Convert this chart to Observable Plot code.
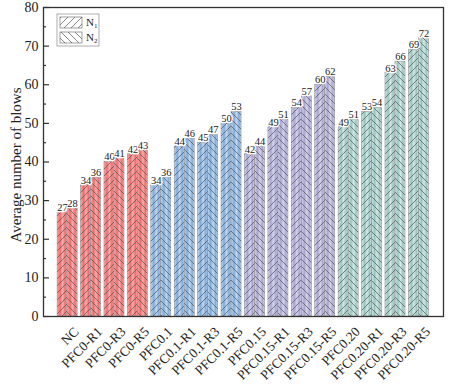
<!DOCTYPE html>
<html>
<head>
<meta charset="utf-8">
<script src="https://cdn.jsdelivr.net/npm/d3@7"></script>
<script src="https://cdn.jsdelivr.net/npm/@observablehq/plot@0.6"></script>
<style>
  html, body { margin: 0; padding: 0; background: #fff; }
  #chart { width: 450px; height: 391px; }
  svg { font-family: "Liberation Serif", "DejaVu Serif", serif; }
</style>
</head>
<body>
<div id="chart"></div>
<script>
const categories = ["NC","PFC0-R1","PFC0-R3","PFC0-R5","PFC0.1","PFC0.1-R1","PFC0.1-R3","PFC0.1-R5",
  "PFC0.15","PFC0.15-R1","PFC0.15-R3","PFC0.15-R5","PFC0.20","PFC0.20-R1","PFC0.20-R3","PFC0.20-R5"];
const n1 = [27,34,40,42,34,44,45,50,42,49,54,60,49,53,63,69];
const n2 = [28,36,41,43,36,46,47,53,44,51,57,62,51,54,66,72];
const family = ["red","red","red","red","blue","blue","blue","blue","purple","purple","purple","purple","teal","teal","teal","teal"];
const seriesNames = ["N1","N2"];
const yTicks = [0,10,20,30,40,50,60,70,80];
const yMinor = [5,15,25,35,45,55,65,75];
const gradientStops = {
  red:    ["#faacac", "#ec6c6c"],
  blue:   ["#c0d8f0", "#7eaadc"],
  purple: ["#d6d4eb", "#a7a5d1"],
  teal:   ["#d2e8e5", "#97c5c0"]
};

const half = 0.427;
const rows = [];
categories.forEach((c, i) => {
  rows.push({i, c, s: "N1", v: n1[i], x1: i - half, x2: i, fam: family[i], hatch: "h1"});
  rows.push({i, c, s: "N2", v: n2[i], x1: i, x2: i + half, fam: family[i], hatch: "h2"});
});

const plot = Plot.plot({
  width: 450,
  height: 391,
  marginLeft: 43,
  marginRight: 7,
  marginTop: 7,
  marginBottom: 75,
  style: {fontFamily: "Liberation Serif, serif", fontSize: "13px", color: "#222", background: "#fff"},
  x: {domain: [-1.03, 16.05], axis: null},
  y: {domain: [0, 80], axis: null},
  color: {type: "identity"},
  marks: [
    Plot.rectY(rows, {x1: "x1", x2: "x2", y1: 0, y2: "v", fill: d => `url(#grad-${d.fam})`, stroke: "#8f8f8f", strokeWidth: 0.6}),
    Plot.rectY(rows, {x1: "x1", x2: "x2", y1: 0, y2: "v", fill: d => `url(#${d.hatch})`}),
    Plot.text(rows, {x: d => (d.x1 + d.x2) / 2, y: "v", text: d => String(d.v), dy: -5, fontSize: 10.5, fill: "#222", stroke: "white", strokeWidth: 2.5}),
    Plot.axisY({ticks: yTicks, tickSize: -6, tickPadding: 11, fontSize: 14, stroke: "#333", strokeWidth: 1.2, label: null}),
    Plot.axisY({ticks: yMinor, tickSize: -3, tickFormat: () => "", stroke: "#333", strokeWidth: 1.2, label: null}),
    Plot.axisX({ticks: d3.range(categories.length), tickFormat: i => categories[i], tickRotate: -45, tickSize: 0, tickPadding: 4, dx: 9, dy: 9, fontSize: 13.5, label: null}),
    Plot.frame({stroke: "#333", strokeWidth: 1.3})
  ]
});

document.getElementById("chart").appendChild(plot);

const svg = d3.select(plot);
const defs = svg.insert("defs", ":first-child");
Object.entries(gradientStops).forEach(([k, [light, dark]]) => {
  const g = defs.append("linearGradient").attr("id", `grad-${k}`).attr("x1", "0").attr("x2", "1").attr("y1", "0").attr("y2", "0");
  g.append("stop").attr("offset", "0%").attr("stop-color", light);
  g.append("stop").attr("offset", "30%").attr("stop-color", dark);
  g.append("stop").attr("offset", "55%").attr("stop-color", light);
  g.append("stop").attr("offset", "80%").attr("stop-color", dark);
  g.append("stop").attr("offset", "100%").attr("stop-color", light);
});
const p1 = defs.append("pattern").attr("id", "h1").attr("patternUnits", "userSpaceOnUse").attr("width", 7).attr("height", 7);
p1.append("path").attr("d", "M-1,1 l2,-2 M0,7 l7,-7 M6,8 l2,-2").attr("stroke", "#555").attr("stroke-width", 0.7).attr("fill", "none");
const p2 = defs.append("pattern").attr("id", "h2").attr("patternUnits", "userSpaceOnUse").attr("width", 7).attr("height", 7);
p2.append("path").attr("d", "M-1,6 l2,2 M0,0 l7,7 M6,-1 l2,2").attr("stroke", "#555").attr("stroke-width", 0.7).attr("fill", "none");

// y-axis title
svg.append("text")
  .attr("transform", "translate(21,165) rotate(-90)")
  .attr("text-anchor", "middle")
  .attr("font-size", 15)
  .attr("fill", "#222")
  .text("Average number of blows");

// legend
const lg = svg.append("g").attr("transform", "translate(57,14)");
lg.append("rect").attr("width", 42).attr("height", 32).attr("fill", "white").attr("stroke", "#999").attr("stroke-width", 0.8);
seriesNames.forEach((s, k) => {
  const gy = 3 + k * 15;
  lg.append("rect").attr("x", 3).attr("y", gy).attr("width", 22).attr("height", 11).attr("fill", "white").attr("stroke", "#777").attr("stroke-width", 0.7);
  lg.append("rect").attr("x", 3).attr("y", gy).attr("width", 22).attr("height", 11).attr("fill", `url(#h${k + 1})`);
  const t = lg.append("text").attr("x", 29).attr("y", gy + 9).attr("font-size", 11).attr("fill", "#222").attr("text-anchor", "start");
  t.append("tspan").text(s[0]);
  t.append("tspan").attr("font-size", 7).attr("dy", 2).text(s[1]);
});
</script>
</body>
</html>
